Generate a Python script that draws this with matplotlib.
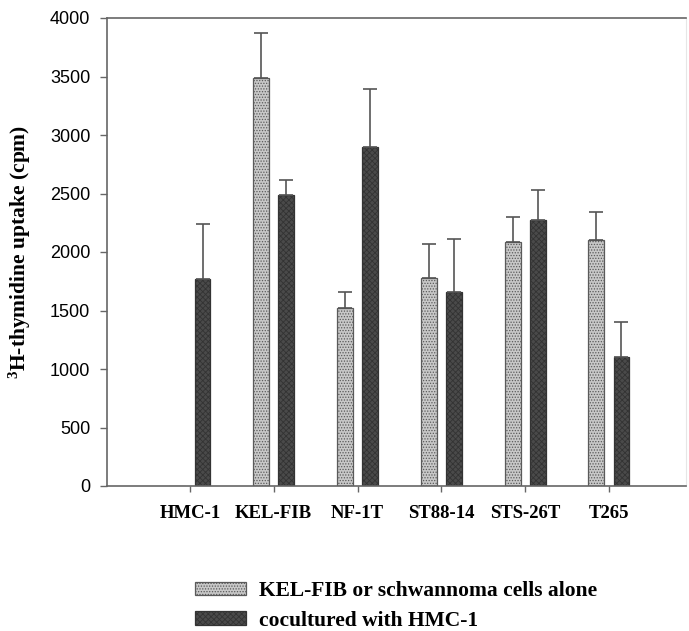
import numpy as np
import matplotlib.pyplot as plt

plt.rcParams['hatch.color'] = '#7a7a7a'
plt.rcParams['hatch.linewidth'] = 0.6
plt.rcParams['mathtext.fontset'] = 'custom'
plt.rcParams['mathtext.rm'] = 'Liberation Serif'
plt.rcParams['mathtext.bf'] = 'Liberation Serif:bold'
plt.rcParams['mathtext.default'] = 'bf'

cells = ['HMC-1', 'KEL-FIB', 'NF-1T', 'ST88-14', 'STS-26T', 'T265']
alone = [0, 3490, 1520, 1780, 2085, 2105]
alone_sd = [0, 380, 140, 285, 215, 240]
cocult = [1765, 2490, 2897, 1660, 2277, 1106]
cocult_sd = [475, 128, 497, 452, 250, 299]

x = np.arange(len(cells))
w = 0.19
off = 0.15

fig = plt.figure(figsize=(6.89, 6.31), dpi=100)
ax = fig.add_axes([107/689, 1-486/631, 579/689, 468/631])

b1 = ax.bar(x - off, alone, w, color='#c8c8c8', edgecolor='#5a5a5a', hatch='......',
            linewidth=0.9, label='KEL-FIB or schwannoma cells alone')
b2 = ax.bar(x + off, cocult, w, color='#4a4a4a', edgecolor='#333333', hatch='xxxxxx',
            linewidth=0.9, label='cocultured with HMC-1')

a = np.array(alone, float)
asd = np.array(alone_sd, float)
m = a > 0
ax.errorbar(x[m] - off, a[m], yerr=[np.zeros(m.sum()), asd[m]], fmt='none',
            ecolor='#555555', elinewidth=1.2, capsize=5, capthick=1.2)
ax.errorbar(x + off, cocult, yerr=[np.zeros(len(x)), cocult_sd], fmt='none',
            ecolor='#555555', elinewidth=1.2, capsize=5, capthick=1.2)

ax.set_xlim(-0.99, 5.92)
ax.set_ylim(0, 4000)
ax.set_yticks(np.arange(0, 4001, 500))
ax.set_xticks(x)
ax.set_xticklabels(cells, family='Liberation Serif', fontweight='bold', fontsize=13.5)
for lab in ax.get_yticklabels():
    lab.set_family('Liberation Sans')
    lab.set_fontsize(13)
ax.tick_params(axis='y', length=5, pad=7, color='#666666', width=1)
ax.tick_params(axis='x', length=4.5, pad=9, color='#666666', width=1)

for s in ['left', 'bottom', 'top']:
    ax.spines[s].set_color('#666666')
    ax.spines[s].set_linewidth(1.2)
ax.spines['right'].set_color('#e6e6e6')

ax.set_ylabel(r'$^{3}$H-thymidine uptake (cpm)', family='Liberation Serif',
              fontweight='bold', fontsize=15.5, labelpad=12)

fig.legend(handles=[b1, b2], loc='upper left', bbox_to_anchor=(195/689, 1-581/631),
           frameon=False, prop={'family': 'Liberation Serif', 'weight': 'bold', 'size': 15.5},
           handlelength=2.35, handleheight=0.6, handletextpad=0.6, labelspacing=0.45,
           borderaxespad=0, borderpad=0)

fig.savefig('out.png', dpi=100)
